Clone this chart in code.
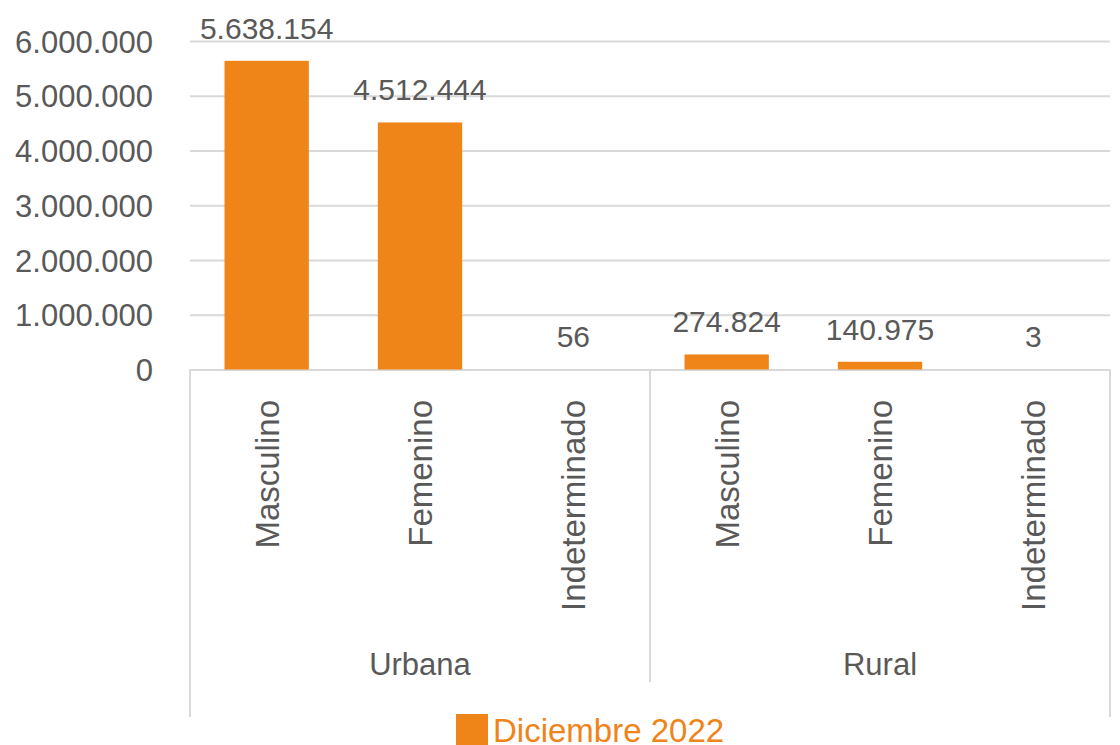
<!DOCTYPE html>
<html>
<head>
<meta charset="utf-8">
<script src="https://cdn.jsdelivr.net/npm/d3@7"></script>
<style>
  html, body { margin: 0; padding: 0; background: #fff; }
  text { font-family: 'Liberation Sans', Arial, sans-serif; fill: #595959; }
</style>
</head>
<body>
<div id="chart"></div>
<script>
// Data
var groups = ['Urbana', 'Rural']
var sexes = ['Masculino', 'Femenino', 'Indeterminado']
var urbanaValues = [5638154, 4512444, 56]
var ruralValues = [274824, 140975, 3]
var yTicks = [0, 1000000, 2000000, 3000000, 4000000, 5000000, 6000000]
var seriesName = 'Diciembre 2022'

var datapoints = []
sexes.forEach((s, i) => datapoints.push({ group: 'Urbana', sex: s, value: urbanaValues[i] }))
sexes.forEach((s, i) => datapoints.push({ group: 'Rural', sex: s, value: ruralValues[i] }))

var width = 1120
var height = 745
var orange = '#ef8419'
var grid = '#d9d9d9'

var esLocale = d3.formatLocale({ decimal: ',', thousands: '.', grouping: [3], currency: ['', ''] })
var fmt = esLocale.format(',')

var svg = d3
  .select('#chart')
  .append('svg')
  .attr('width', width)
  .attr('height', height)

// Scales
var xGroupScale = d3
  .scaleBand()
  .domain(groups)
  .range([190, 1110])

var xSexScale = d3
  .scaleBand()
  .domain(sexes)
  .range([0, xGroupScale.bandwidth()])
  .paddingInner(0.45)
  .paddingOuter(0.225)

var yPositionScale = d3
  .scaleLinear()
  .domain([0, 6000000])
  .range([369.5, 41])

// Gridlines via axis
var yAxis = d3
  .axisLeft(yPositionScale)
  .tickValues(yTicks)
  .tickFormat(fmt)
  .tickSize(-920)
  .tickPadding(37)

svg
  .append('g')
  .attr('class', 'axis y-axis')
  .attr('transform', 'translate(190, 0)')
  .call(yAxis)
  .call(g => g.select('.domain').remove())
  .call(g => g.selectAll('line').attr('stroke', grid).attr('stroke-width', 2))
  .call(g =>
    g
      .selectAll('text')
      .attr('font-size', 31)
      .attr('fill', '#595959')
      .attr('dy', '0.36em')
  )

// Category separators
var bottom = yPositionScale(0)
svg
  .append('line')
  .attr('x1', 190).attr('x2', 190)
  .attr('y1', bottom).attr('y2', 717)
  .attr('stroke', grid).attr('stroke-width', 2)
svg
  .append('line')
  .attr('x1', xGroupScale('Rural')).attr('x2', xGroupScale('Rural'))
  .attr('y1', bottom).attr('y2', 682)
  .attr('stroke', grid).attr('stroke-width', 2)
svg
  .append('line')
  .attr('x1', 1110).attr('x2', 1110)
  .attr('y1', bottom).attr('y2', 717)
  .attr('stroke', grid).attr('stroke-width', 2)

function barX(d) {
  return xGroupScale(d.group) + xSexScale(d.sex)
}
function barCenter(d) {
  return barX(d) + xSexScale.bandwidth() / 2
}

// Bars
svg
  .selectAll('.bar')
  .data(datapoints)
  .enter()
  .append('rect')
  .attr('class', 'bar')
  .attr('x', barX)
  .attr('width', xSexScale.bandwidth())
  .attr('y', d => yPositionScale(d.value))
  .attr('height', d => bottom - yPositionScale(d.value))
  .attr('fill', orange)

// Data labels
svg
  .selectAll('.value-label')
  .data(datapoints)
  .enter()
  .append('text')
  .attr('class', 'value-label')
  .text(d => fmt(d.value))
  .attr('x', barCenter)
  .attr('y', d => yPositionScale(d.value) - 22)
  .attr('text-anchor', 'middle')
  .attr('font-size', 30)

// Category labels (rotated)
svg
  .selectAll('.sex-label')
  .data(datapoints)
  .enter()
  .append('text')
  .attr('class', 'sex-label')
  .text(d => d.sex)
  .attr('transform', d => `translate(${barCenter(d)}, 400) rotate(-90)`)
  .attr('text-anchor', 'end')
  .attr('dy', '0.36em')
  .attr('font-size', 33)

// Group labels
svg
  .selectAll('.group-label')
  .data(groups)
  .enter()
  .append('text')
  .attr('class', 'group-label')
  .text(d => d)
  .attr('x', d => xGroupScale(d) + xGroupScale.bandwidth() / 2)
  .attr('y', 675)
  .attr('text-anchor', 'middle')
  .attr('font-size', 31)

// Legend
svg
  .append('rect')
  .attr('x', 456)
  .attr('y', 714)
  .attr('width', 32)
  .attr('height', 31)
  .attr('fill', orange)
svg
  .append('text')
  .text(seriesName)
  .attr('x', 493)
  .attr('y', 742)
  .attr('font-size', 33)
  .style('fill', orange)
</script>
</body>
</html>
